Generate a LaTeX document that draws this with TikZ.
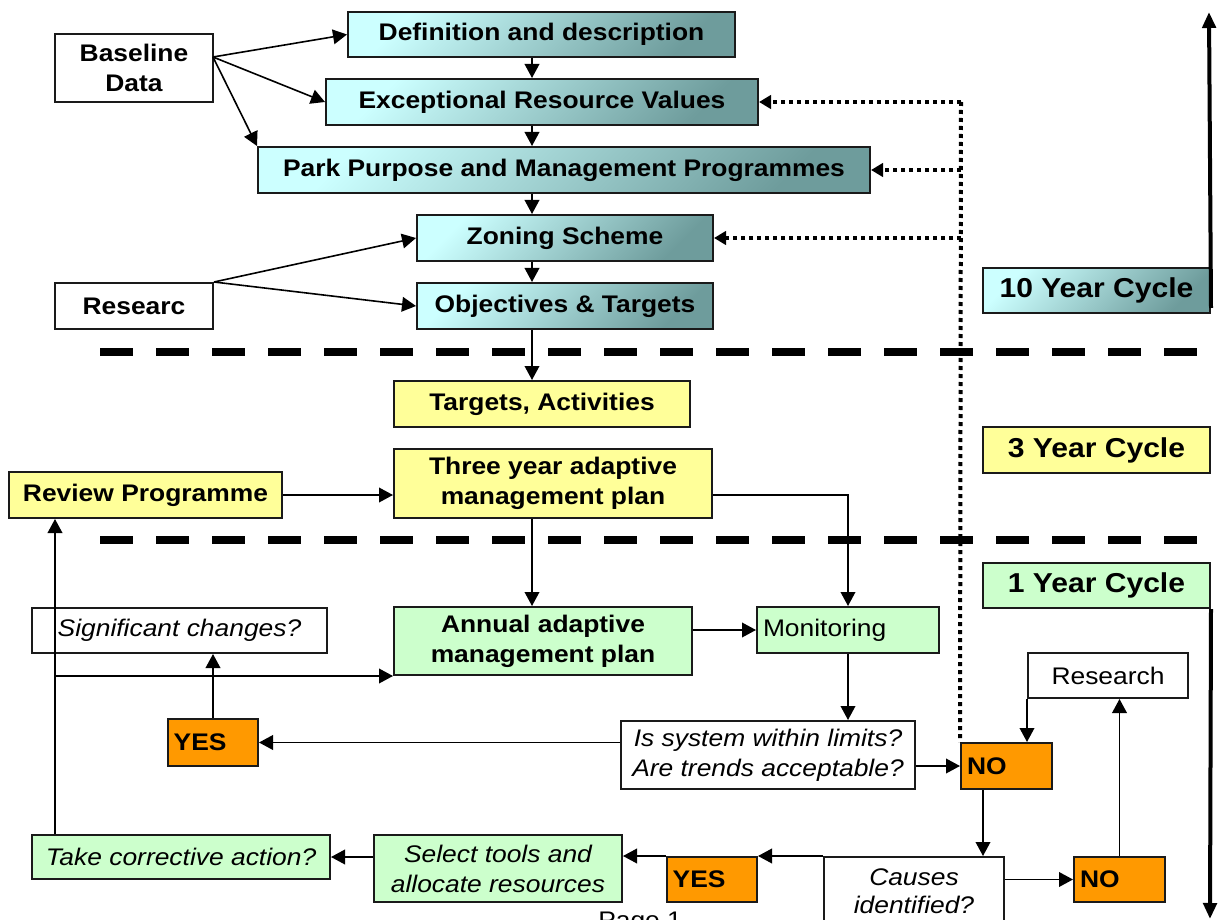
\documentclass[tikz,border=0pt]{standalone}
\usepackage{fontspec}
\setmainfont{Liberation Sans}[FakeStretch=1.1]
\usetikzlibrary{arrows.meta,calc}
\definecolor{tealL}{HTML}{CCFFFF}
\definecolor{tealD}{HTML}{6E9C9C}
\definecolor{yel}{HTML}{FFFF99}
\definecolor{grn}{HTML}{CCFFCC}
\definecolor{org}{HTML}{FF9900}
\definecolor{edgec}{HTML}{1A1A1A}
\newcommand{\bx}[7]{\node[#6, minimum width={(#4-#2)*0.75pt}, minimum height={(#5-#3)*0.75pt}] (#1) at ({(#2+#4)/2},{(#3+#5)/2}) {#7};}
\begin{document}
\begin{tikzpicture}[x=0.75pt,y=-0.75pt,
  basebox/.style={draw=edgec, line width=1.5pt, inner sep=2pt, align=center, font=\fontsize{18}{22.5}\selectfont},
  teal/.style={basebox, top color=tealL, bottom color=tealD, shading angle=45, font=\fontsize{18}{22.5}\selectfont\bfseries},
  tealbig/.style={teal, font=\fontsize{20.5}{24}\selectfont\bfseries},
  yelbox/.style={basebox, fill=yel, font=\fontsize{18}{22.5}\selectfont\bfseries},
  yelbig/.style={yelbox, font=\fontsize{20.5}{24}\selectfont\bfseries},
  grnbox/.style={basebox, fill=grn},
  grnbig/.style={basebox, fill=grn, font=\fontsize{20.5}{24}\selectfont\bfseries},
  whitebox/.style={basebox, fill=white},
  orgbox/.style={basebox, fill=org, font=\fontsize{18}{22.5}\selectfont\bfseries, align=left, text width=59pt},
  arr/.style={-{Triangle[length=10.5pt,width=11pt]}, line width=1.2pt, draw=black},
  dotarr/.style={-{Triangle[length=9pt,width=10pt]}, line width=3pt, dash pattern=on 3pt off 3pt},
  dotl/.style={line width=3pt, dash pattern=on 3pt off 3pt},
  dashl/.style={line width=6pt, dash pattern=on 24.75pt off 17.25pt},
  cyc/.style={-{Triangle[length=12pt,width=10pt]}, line width=3pt}
]
\useasboundingbox[fill=white] (0,0) rectangle (1218,920);

% helper coordinates
\coordinate (ax) at (532,0);
\coordinate (lx) at (55,0);
\coordinate (dx) at (961,0);
\coordinate (nx) at (983,0);
\coordinate (bs) at (213,57);
\coordinate (tt) at (1209,12);
\coordinate (ob) at (1210,919);
\coordinate (d1a) at (100,352);
\coordinate (d1b) at (1200,352);
\coordinate (d2a) at (100,540);
\coordinate (d2b) at (1200,540);

% cycle separators
\draw[dashl] (d1a) -- (d1b);
\draw[dashl] (d2a) -- (d2b);

% 10 year block
\bx{base}{55}{34}{213}{102}{whitebox, font=\fontsize{18}{22.5}\selectfont\bfseries}{Baseline\\Data}
\bx{resc}{55}{283}{213}{329}{whitebox, font=\fontsize{18}{22.5}\selectfont\bfseries}{Researc}
\bx{def}{348}{12}{735}{57}{teal}{Definition and description}
\bx{erv}{326}{79}{758}{125}{teal}{Exceptional Resource Values}
\bx{ppm}{258}{147}{870}{193}{teal}{Park Purpose and Management Programmes}
\bx{zon}{417}{215}{713}{261}{teal}{Zoning Scheme}
\bx{obj}{417}{283}{713}{329}{teal}{Objectives \& Targets}
\bx{ten}{983}{268}{1210}{313}{tealbig}{10 Year Cycle}

% 3 year block
\bx{tact}{394}{381}{690}{427}{yelbox}{Targets, Activities}
\bx{three}{394}{449}{712}{518}{yelbox}{Three year adaptive\\management plan}
\bx{rev}{9}{472}{282}{518}{yelbox}{Review Programme}
\bx{thr}{983}{427}{1210}{473}{yelbig}{3 Year Cycle}

% 1 year block
\bx{one}{983}{563}{1210}{608}{grnbig}{1 Year Cycle}
\bx{ann}{394}{607}{692}{675}{grnbox, font=\fontsize{18}{22.5}\selectfont\bfseries}{Annual adaptive\\management plan}
\bx{mon}{757}{607}{939}{653}{grnbox, align=left, text width=127.5pt}{Monitoring}
\bx{sig}{32}{608}{327}{653}{whitebox, font=\fontsize{18}{22.5}\selectfont\itshape}{Significant changes?}
\bx{res}{1028}{653}{1188}{698}{whitebox}{Research}
\bx{yesa}{168}{719}{258}{766}{orgbox}{YES}
\bx{isys}{621}{721}{915}{789}{whitebox, font=\fontsize{18}{22.5}\selectfont\itshape}{Is system within limits?\\Are trends acceptable?}
\bx{noa}{961}{743}{1052}{789}{orgbox}{NO}
\bx{take}{32}{835}{330}{879}{grnbox, font=\fontsize{18}{22.5}\selectfont\itshape}{Take corrective action?}
\bx{sel}{374}{835}{622}{902}{grnbox, font=\fontsize{18}{22.5}\selectfont\itshape}{Select tools and\\allocate resources}
\bx{yesb}{667}{857}{757}{902}{orgbox}{YES}
\bx{cause}{824}{857}{1004}{925}{whitebox, font=\fontsize{18}{21}\selectfont\itshape}{Causes\\identified?}
\bx{nob}{1074}{857}{1165}{902}{orgbox}{NO}
\node[anchor=base west, inner sep=0pt, font=\fontsize{18}{22.5}\selectfont] (page) at (598,928) {Page 1};

% top connectors
\draw[arr] (bs) -- (def.west);
\draw[arr] (bs) -- (erv.west);
\draw[arr] (bs) -- (ppm.north west);
\draw[arr] (resc.north east) -- (zon.west);
\draw[arr] (resc.north east) -- (obj.west);
\draw[arr] (def.south -| ax) -- (erv.north -| ax);
\draw[arr] (erv.south -| ax) -- (ppm.north -| ax);
\draw[arr] (ppm.south -| ax) -- (zon.north -| ax);
\draw[arr] (zon.south -| ax) -- (obj.north -| ax);
\draw[arr] (obj.south -| ax) -- (tact.north -| ax);

% middle connectors
\draw[arr] (rev.east) -- (rev.east -| three.west);
\draw[arr] (rev.east -| three.east) -| (mon.north);
\draw[arr] (three.south -| ax) -- (ann.north -| ax);
\draw[arr] (mon.west -| ann.east) -- (mon.west);
\draw[arr] (mon.south) -- (mon.south |- isys.north);
\draw[arr] (yesa.east -| isys.west) -- (yesa.east);
\draw[arr] (yesa.north) -- (yesa.north |- sig.south);
\draw[arr] (noa.west -| isys.east) -- (noa.west);
\draw[arr] (res.south west) -- (res.south west |- noa.north);
\draw[arr] (noa.south -| nx) -- (cause.north -| nx);
\draw[arr] (cause.north west) -- (yesb.north east);
\draw[arr] (yesb.north west) -- (yesb.north west -| sel.east);
\draw[arr] (take.east -| sel.west) -- (take.east);
\draw[arr] (nob.west -| cause.east) -- (nob.west);
\draw[arr] (nob.north) -- (nob.north |- res.south);
\draw[arr] (take.north -| lx) -- (rev.south -| lx);
\draw[arr] (ann.south west -| lx) -- (ann.south west);

% dotted feedback
\draw[dotl] (erv.east -| dx) -- (noa.north west);
\draw[dotarr] (erv.east -| dx) -- (erv.east);
\draw[dotarr] (ppm.east -| dx) -- (ppm.east);
\draw[dotarr] (zon.east -| dx) -- (zon.east);

% cycle arrows
\draw[cyc] (ten.south east) ++(0,-6) -- (tt);
\draw[cyc] (one.south east) -- (ob);
\end{tikzpicture}
\end{document}
